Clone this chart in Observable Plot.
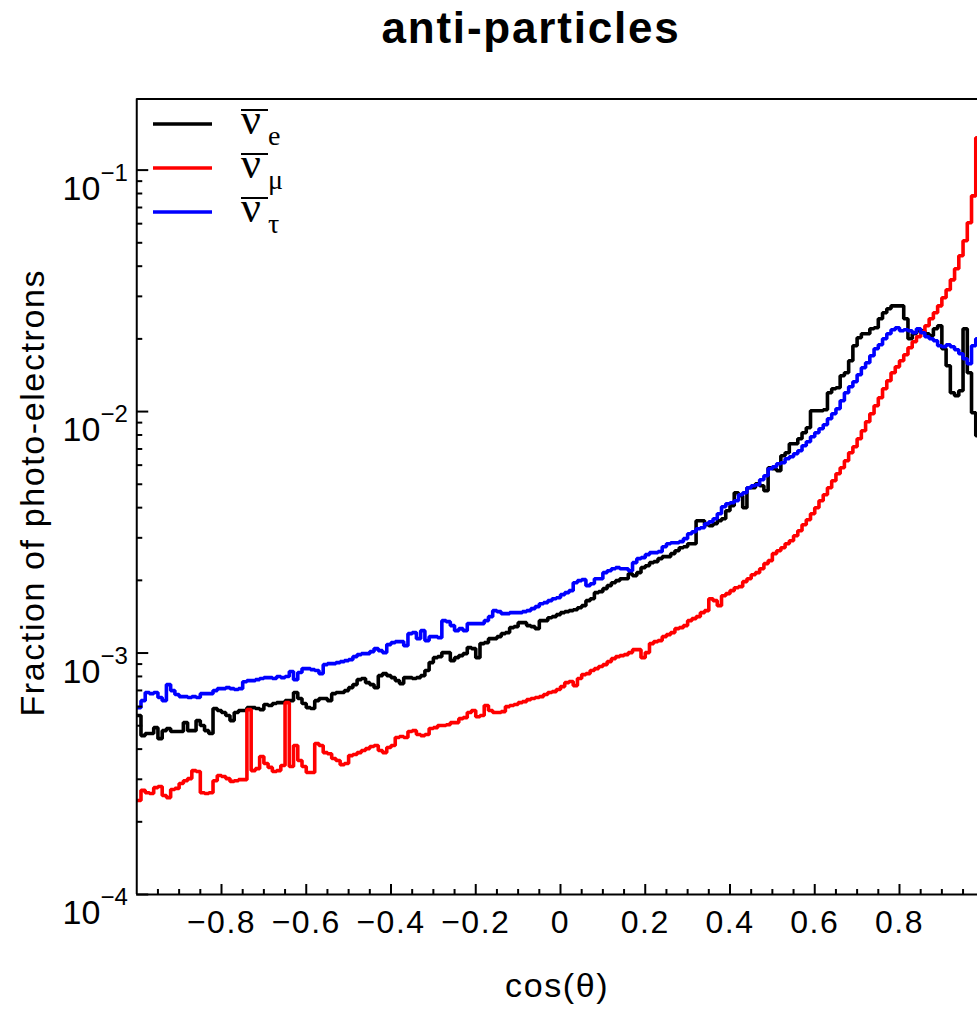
<!DOCTYPE html>
<html><head><meta charset="utf-8">
<script src="https://cdn.jsdelivr.net/npm/d3@7"></script>
<script src="https://cdn.jsdelivr.net/npm/@observablehq/plot@0.6"></script>
<style>
html,body{margin:0;padding:0;background:#fff;overflow:hidden}
#wrap{position:relative;width:977px;height:1012px;overflow:hidden;font-family:"Liberation Sans",Arial,sans-serif}
#title{position:absolute;left:0;top:6px;width:1062px;text-align:center;font-weight:bold;font-size:44px;line-height:44px;letter-spacing:1.8px;color:#000}
#chart{position:absolute;left:0;top:70px}
#chart svg{display:block}
#legend{position:absolute;left:0;top:0}
#chart g[aria-label="x-axis tick label"] text{letter-spacing:1.5px}
#chart g[aria-label="text"] text{letter-spacing:1.6px}
</style></head>
<body><div id="wrap"><div id="title">anti-particles</div><div id="chart"></div><svg id="legend" width="330" height="250"></svg></div>
<script>
const binLow = -1, binWidth = 0.01;

// anti-nu_e (black)
const nuE = [5.51e-4,4.55e-4,4.64e-4,4.64e-4,4.91e-4,4.42e-4,4.77e-4,4.87e-4,4.73e-4,4.73e-4,
4.73e-4,5.15e-4,4.77e-4,4.77e-4,5.25e-4,5.01e-4,4.77e-4,4.64e-4,5.89e-4,5.78e-4,
5.67e-4,5.51e-4,5.25e-4,5.67e-4,5.78e-4,5.78e-4,5.94e-4,5.94e-4,5.89e-4,5.83e-4,
6.12e-4,6.06e-4,6.18e-4,6.23e-4,6.23e-4,6.35e-4,6.35e-4,6.86e-4,6.48e-4,6.18e-4,
5.94e-4,5.89e-4,6.35e-4,6.48e-4,6.48e-4,6.35e-4,6.79e-4,6.86e-4,6.86e-4,6.99e-4,
7.19e-4,7.40e-4,7.76e-4,7.84e-4,7.54e-4,7.40e-4,7.19e-4,8.06e-4,8.22e-4,8.06e-4,
7.91e-4,7.69e-4,7.47e-4,7.91e-4,7.91e-4,7.84e-4,7.91e-4,8.06e-4,8.46e-4,9.13e-4,
9.57e-4,9.66e-4,1.004e-3,1.004e-3,9.30e-4,9.57e-4,9.76e-4,9.94e-4,1.053e-3,1.043e-3,
9.57e-4,1.094e-3,1.104e-3,1.147e-3,1.147e-3,1.169e-3,1.203e-3,1.215e-3,1.274e-3,1.286e-3,
1.336e-3,1.336e-3,1.299e-3,1.286e-3,1.262e-3,1.362e-3,1.362e-3,1.401e-3,1.415e-3,1.442e-3,
1.470e-3,1.484e-3,1.498e-3,1.512e-3,1.541e-3,1.571e-3,1.648e-3,1.679e-3,1.779e-3,1.796e-3,
1.848e-3,1.901e-3,1.956e-3,1.994e-3,2.032e-3,2.032e-3,2.131e-3,2.091e-3,2.152e-3,2.257e-3,
2.300e-3,2.368e-3,2.390e-3,2.460e-3,2.507e-3,2.507e-3,2.580e-3,2.654e-3,2.731e-3,2.757e-3,
2.837e-3,2.837e-3,3.532e-3,3.532e-3,3.400e-3,3.368e-3,3.433e-3,3.532e-3,3.600e-3,3.886e-3,
4.075e-3,4.613e-3,4.483e-3,3.998e-3,4.838e-3,4.838e-3,5.027e-3,4.931e-3,4.702e-3,5.854e-3,
5.799e-3,5.689e-3,6.564e-3,6.754e-3,7.359e-3,7.359e-3,7.718e-3,8.173e-3,8.571e-3,1.008e-2,
1.008e-2,1.008e-2,1.018e-2,1.197e-2,1.243e-2,1.255e-2,1.407e-2,1.447e-2,1.623e-2,1.873e-2,
2.021e-2,2.100e-2,2.100e-2,2.203e-2,2.224e-2,2.423e-2,2.565e-2,2.664e-2,2.741e-2,2.741e-2,
2.741e-2,2.423e-2,2.002e-2,2.100e-2,2.161e-2,2.161e-2,2.100e-2,2.060e-2,2.203e-2,2.266e-2,
1.820e-2,1.547e-2,1.197e-2,1.163e-2,1.220e-2,2.203e-2,1.447e-2,9.889e-3,7.942e-3,7.573e-3];

// anti-nu_mu (red)
const nuMu = [2.45e-4,2.70e-4,2.64e-4,2.62e-4,2.77e-4,2.80e-4,2.57e-4,2.52e-4,2.72e-4,2.75e-4,
2.88e-4,2.96e-4,3.02e-4,3.26e-4,3.23e-4,2.64e-4,2.62e-4,2.64e-4,2.96e-4,3.11e-4,
3.08e-4,3.02e-4,2.94e-4,2.96e-4,2.99e-4,2.99e-4,5.83e-4,3.26e-4,3.32e-4,3.73e-4,
3.49e-4,3.36e-4,3.23e-4,3.26e-4,3.42e-4,6.23e-4,3.39e-4,4.14e-4,3.59e-4,3.39e-4,
3.20e-4,3.20e-4,4.22e-4,4.14e-4,3.87e-4,3.83e-4,3.66e-4,3.59e-4,3.45e-4,3.49e-4,
3.76e-4,3.80e-4,3.87e-4,3.95e-4,4.02e-4,4.10e-4,4.14e-4,3.95e-4,3.87e-4,4.06e-4,
4.14e-4,4.47e-4,4.51e-4,4.47e-4,4.73e-4,4.77e-4,4.60e-4,4.55e-4,4.60e-4,4.87e-4,
4.91e-4,5.01e-4,5.01e-4,5.05e-4,5.15e-4,5.15e-4,5.35e-4,5.40e-4,5.67e-4,5.78e-4,
5.45e-4,5.51e-4,6.06e-4,5.78e-4,5.67e-4,5.67e-4,5.72e-4,6.00e-4,6.06e-4,6.12e-4,
6.23e-4,6.29e-4,6.41e-4,6.48e-4,6.54e-4,6.60e-4,6.73e-4,6.86e-4,6.92e-4,7.06e-4,
7.26e-4,7.54e-4,7.62e-4,7.33e-4,7.84e-4,8.14e-4,8.22e-4,8.46e-4,8.62e-4,8.79e-4,
8.95e-4,9.21e-4,9.48e-4,9.66e-4,9.76e-4,9.85e-4,1.004e-3,1.033e-3,1.033e-3,9.57e-4,
1.004e-3,1.094e-3,1.115e-3,1.126e-3,1.169e-3,1.192e-3,1.215e-3,1.262e-3,1.274e-3,1.299e-3,
1.362e-3,1.388e-3,1.415e-3,1.470e-3,1.498e-3,1.679e-3,1.648e-3,1.571e-3,1.728e-3,1.762e-3,
1.813e-3,1.865e-3,1.883e-3,1.975e-3,2.032e-3,2.111e-3,2.152e-3,2.235e-3,2.345e-3,2.413e-3,
2.580e-3,2.654e-3,2.731e-3,2.837e-3,2.919e-3,3.062e-3,3.211e-3,3.400e-3,3.566e-3,3.776e-3,
3.998e-3,4.274e-3,4.526e-3,4.838e-3,5.173e-3,5.529e-3,5.854e-3,6.258e-3,6.754e-3,7.151e-3,
7.718e-3,8.330e-3,9.076e-3,9.795e-3,1.057e-2,1.141e-2,1.243e-2,1.341e-2,1.447e-2,1.532e-2,
1.623e-2,1.719e-2,1.838e-2,1.946e-2,2.041e-2,2.140e-2,2.266e-2,2.423e-2,2.565e-2,2.741e-2,
2.959e-2,3.194e-2,3.512e-2,3.901e-2,4.416e-2,5.095e-2,6.049e-2,7.823e-2,0.1360,0.1599];

// anti-nu_tau (blue)
const nuTau = [5.94e-4,6.35e-4,6.86e-4,6.79e-4,6.86e-4,6.54e-4,6.35e-4,7.40e-4,6.99e-4,6.73e-4,
6.60e-4,6.60e-4,6.54e-4,6.60e-4,6.54e-4,6.79e-4,6.79e-4,6.79e-4,6.99e-4,7.12e-4,
7.12e-4,7.19e-4,7.12e-4,7.06e-4,7.12e-4,7.61e-4,7.69e-4,7.69e-4,7.76e-4,7.84e-4,
7.91e-4,7.91e-4,7.84e-4,7.99e-4,7.91e-4,7.99e-4,8.38e-4,7.76e-4,8.30e-4,8.62e-4,
8.62e-4,8.54e-4,8.46e-4,8.22e-4,8.95e-4,9.04e-4,9.04e-4,9.13e-4,9.21e-4,9.30e-4,
9.39e-4,9.66e-4,9.85e-4,9.94e-4,9.94e-4,1.014e-3,1.043e-3,1.023e-3,1.004e-3,1.084e-3,
1.104e-3,1.115e-3,1.115e-3,1.073e-3,1.203e-3,1.215e-3,1.147e-3,1.238e-3,1.126e-3,1.169e-3,
1.169e-3,1.158e-3,1.362e-3,1.349e-3,1.299e-3,1.238e-3,1.262e-3,1.238e-3,1.324e-3,1.324e-3,
1.324e-3,1.324e-3,1.362e-3,1.415e-3,1.498e-3,1.484e-3,1.456e-3,1.456e-3,1.470e-3,1.470e-3,
1.470e-3,1.484e-3,1.498e-3,1.527e-3,1.556e-3,1.601e-3,1.617e-3,1.648e-3,1.679e-3,1.695e-3,
1.745e-3,1.779e-3,1.813e-3,1.956e-3,1.994e-3,2.013e-3,1.901e-3,1.937e-3,2.032e-3,2.032e-3,
2.152e-3,2.193e-3,2.235e-3,2.257e-3,2.235e-3,2.235e-3,2.193e-3,2.368e-3,2.460e-3,2.483e-3,
2.555e-3,2.604e-3,2.604e-3,2.629e-3,2.757e-3,2.837e-3,2.864e-3,2.864e-3,2.892e-3,2.976e-3,
3.121e-3,3.181e-3,3.273e-3,3.304e-3,3.433e-3,3.499e-3,3.600e-3,3.776e-3,4.036e-3,4.154e-3,
4.193e-3,4.274e-3,4.526e-3,4.613e-3,4.838e-3,4.931e-3,4.979e-3,5.222e-3,5.425e-3,5.799e-3,
5.910e-3,6.082e-3,6.140e-3,6.379e-3,6.501e-3,6.690e-3,6.884e-3,7.220e-3,7.500e-3,7.866e-3,
8.173e-3,8.490e-3,8.820e-3,9.340e-3,9.795e-3,1.027e-2,1.109e-2,1.197e-2,1.267e-2,1.328e-2,
1.420e-2,1.518e-2,1.592e-2,1.702e-2,1.820e-2,1.891e-2,2.002e-2,2.100e-2,2.182e-2,2.224e-2,
2.161e-2,2.182e-2,2.161e-2,2.120e-2,2.203e-2,2.120e-2,2.041e-2,2.002e-2,1.965e-2,1.873e-2,
1.855e-2,1.891e-2,1.855e-2,1.803e-2,1.735e-2,1.654e-2,1.577e-2,1.873e-2,2.002e-2,2.060e-2];

const seriesColors = ["#000000", "#ff0000", "#0000ff"];
const legendSubscripts = ["e", "μ", "τ"];
const xTicks = [-0.8, -0.6, -0.4, -0.2, 0, 0.2, 0.4, 0.6, 0.8];
const xTickLabels = ["−0.8", "−0.6", "−0.4", "−0.2", "0", "0.2", "0.4", "0.6", "0.8"];
const xMinorTicks = [-0.95,-0.9,-0.85,-0.75,-0.7,-0.65,-0.55,-0.5,-0.45,-0.35,-0.3,-0.25,-0.15,-0.1,-0.05,
  0.05,0.1,0.15,0.25,0.3,0.35,0.45,0.5,0.55,0.65,0.7,0.75,0.85,0.9,0.95];
const yTicks = [1e-4, 1e-3, 1e-2, 1e-1];
const yTickExponents = ["−4", "−3", "−2", "−1"];
const yMinorMultipliers = [2, 3, 4, 5, 6, 7, 8, 9];
const xDomain = [-1, 0.9841];
const yDomain = [1e-4, 0.197];
const xTitle = "cos(θ)";
const yTitle = "Fraction of photo-electrons";

function toSteps(values) {
  const pts = values.map((v, i) => ({x: binLow + i * binWidth, y: v}));
  pts.push({x: binLow + values.length * binWidth, y: values[values.length - 1]});
  return pts;
}

const W = 977, H = 942, mL = 136.25, mR = 0, mT = 28.5, mB = 118;
const plotW = W - mL - mR, plotH = H - mT - mB;
const yMinor = yTicks.flatMap(d => yMinorMultipliers.map(m => m * d)).filter(v => v < yDomain[1]);
const lineOpts = {x: "x", y: "y", curve: "step-after", strokeWidth: 3.6, strokeLinejoin: "miter", strokeLinecap: "butt", clip: true};
const axisStroke = {stroke: "#000", strokeWidth: 2};

const chart = Plot.plot({
  width: W, height: H, marginLeft: mL, marginRight: mR, marginTop: mT, marginBottom: mB,
  style: {fontFamily: '"Liberation Sans", Arial, sans-serif', color: "#000", background: "#fff"},
  x: {domain: xDomain, label: null},
  y: {type: "log", domain: yDomain, label: null},
  marks: [
    Plot.line(toSteps(nuE), {...lineOpts, stroke: seriesColors[0]}),
    Plot.line(toSteps(nuMu), {...lineOpts, stroke: seriesColors[1]}),
    Plot.line(toSteps(nuTau), {...lineOpts, stroke: seriesColors[2]}),
    Plot.ruleY([yDomain[0]], axisStroke),
    Plot.ruleY([yDomain[1]], axisStroke),
    Plot.ruleX([xDomain[0]], axisStroke),
    Plot.tickX(xTicks, {x: d => d, insetTop: plotH - 10, ...axisStroke}),
    Plot.tickX(xMinorTicks, {x: d => d, insetTop: plotH - 5, ...axisStroke}),
    Plot.tickY(yTicks, {y: d => d, insetRight: plotW - 12, ...axisStroke}),
    Plot.tickY(yMinor, {y: d => d, insetRight: plotW - 6, ...axisStroke}),
    Plot.axisX(xTicks, {tickSize: 0, tickPadding: 16, fontSize: 32, label: null,
      tickFormat: d => xTickLabels[xTicks.indexOf(d)]}),
    Plot.axisY(yTicks, {tickSize: 0, tickPadding: 9, fontSize: 34, label: null,
      tickFormat: d => "10^" + Math.round(Math.log10(d))}),
    Plot.text([xTitle], {text: d => d, frameAnchor: "bottom", dy: 102, fontSize: 34}),
    Plot.text([yTitle], {text: d => d, frameAnchor: "left", textAnchor: "middle", rotate: -90, dx: -103.25, dy: -4, fontSize: 34})
  ]
});
document.getElementById("chart").appendChild(chart);

// superscript exponents on the y tick labels
d3.select(chart).selectAll("text").each(function() {
  const t = this.textContent;
  if (!t.startsWith("10^")) return;
  const e = +t.split("^")[1];
  const idx = yTicks.findIndex(v => Math.round(Math.log10(v)) === e);
  const sel = d3.select(this);
  sel.text(null).attr("dy", 19);
  sel.append("tspan").text("10");
  sel.append("tspan").attr("font-size", 24).attr("dy", -19).text(yTickExponents[idx]);
});

// legend (inside the frame, top-left)
const lg = d3.select("#legend");
legendSubscripts.forEach((s, i) => {
  const yl = 124 + 44 * i;
  lg.append("line").attr("x1", 153).attr("x2", 212).attr("y1", yl).attr("y2", yl)
    .attr("stroke", seriesColors[i]).attr("stroke-width", 3.3);
  const base = yl + 10;
  lg.append("text").attr("x", 241).attr("y", base).attr("font-family", '"Liberation Serif", serif')
    .attr("font-size", 44).attr("fill", "#000").text("ν");
  lg.append("line").attr("x1", 241).attr("x2", 268).attr("y1", base - 24).attr("y2", base - 24)
    .attr("stroke", "#000").attr("stroke-width", 2);
  lg.append("text").attr("x", 268).attr("y", base + 11).attr("font-family", '"Liberation Serif", serif')
    .attr("font-size", 28).attr("fill", "#000").text(s);
});
</script></body></html>
